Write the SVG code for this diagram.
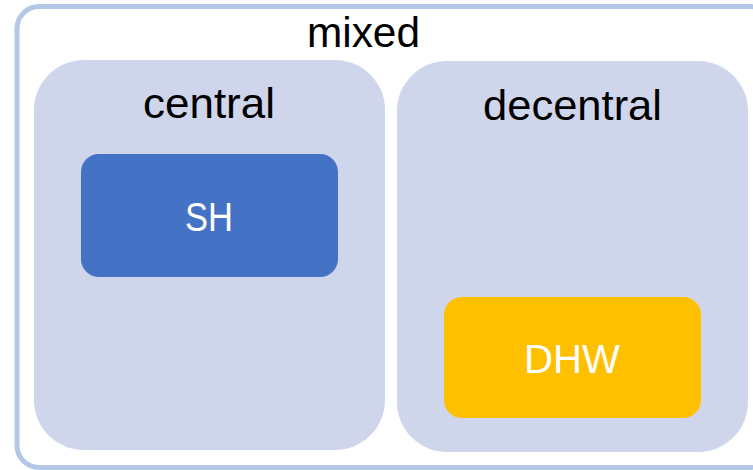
<svg xmlns="http://www.w3.org/2000/svg" width="753" height="470" viewBox="0 0 753 470">
  <style>
    .panel { fill: #cfd5ea; }
    .lbl { font-family: "Liberation Sans", Arial, sans-serif; fill: #000000; text-anchor: middle; }
    .inner { font-family: "Liberation Sans", Arial, sans-serif; fill: #ffffff; text-anchor: middle; }
  </style>
  <rect width="753" height="470" fill="#ffffff"/>
  <g id="mixed">
    <rect x="17" y="6.5" width="755" height="461" rx="22" ry="22" fill="#ffffff" stroke="#b4c7e7" stroke-width="5"/>
    <text class="lbl" x="363.5" y="47" font-size="42" textLength="113" lengthAdjust="spacingAndGlyphs">mixed</text>
  </g>
  <g id="central">
    <rect class="panel" x="34" y="60" width="351" height="390" rx="50" ry="50"/>
    <text class="lbl" x="209" y="118" font-size="43" textLength="132" lengthAdjust="spacingAndGlyphs">central</text>
  </g>
  <g id="decentral">
    <rect class="panel" x="397" y="61" width="351" height="391" rx="50" ry="50"/>
    <text class="lbl" x="572.5" y="120" font-size="43" textLength="179" lengthAdjust="spacingAndGlyphs">decentral</text>
  </g>
  <g id="SH">
    <rect x="81" y="154" width="257" height="123" rx="18" ry="18" fill="#4472c4"/>
    <text class="inner" x="209" y="231" font-size="40" textLength="48" lengthAdjust="spacingAndGlyphs">SH</text>
  </g>
  <g id="DHW">
    <rect x="444" y="297" width="257" height="121" rx="18" ry="18" fill="#ffc000"/>
    <text class="inner" x="572" y="373" font-size="40" textLength="96" lengthAdjust="spacingAndGlyphs">DHW</text>
  </g>
  <g id="connectors"></g>
</svg>
